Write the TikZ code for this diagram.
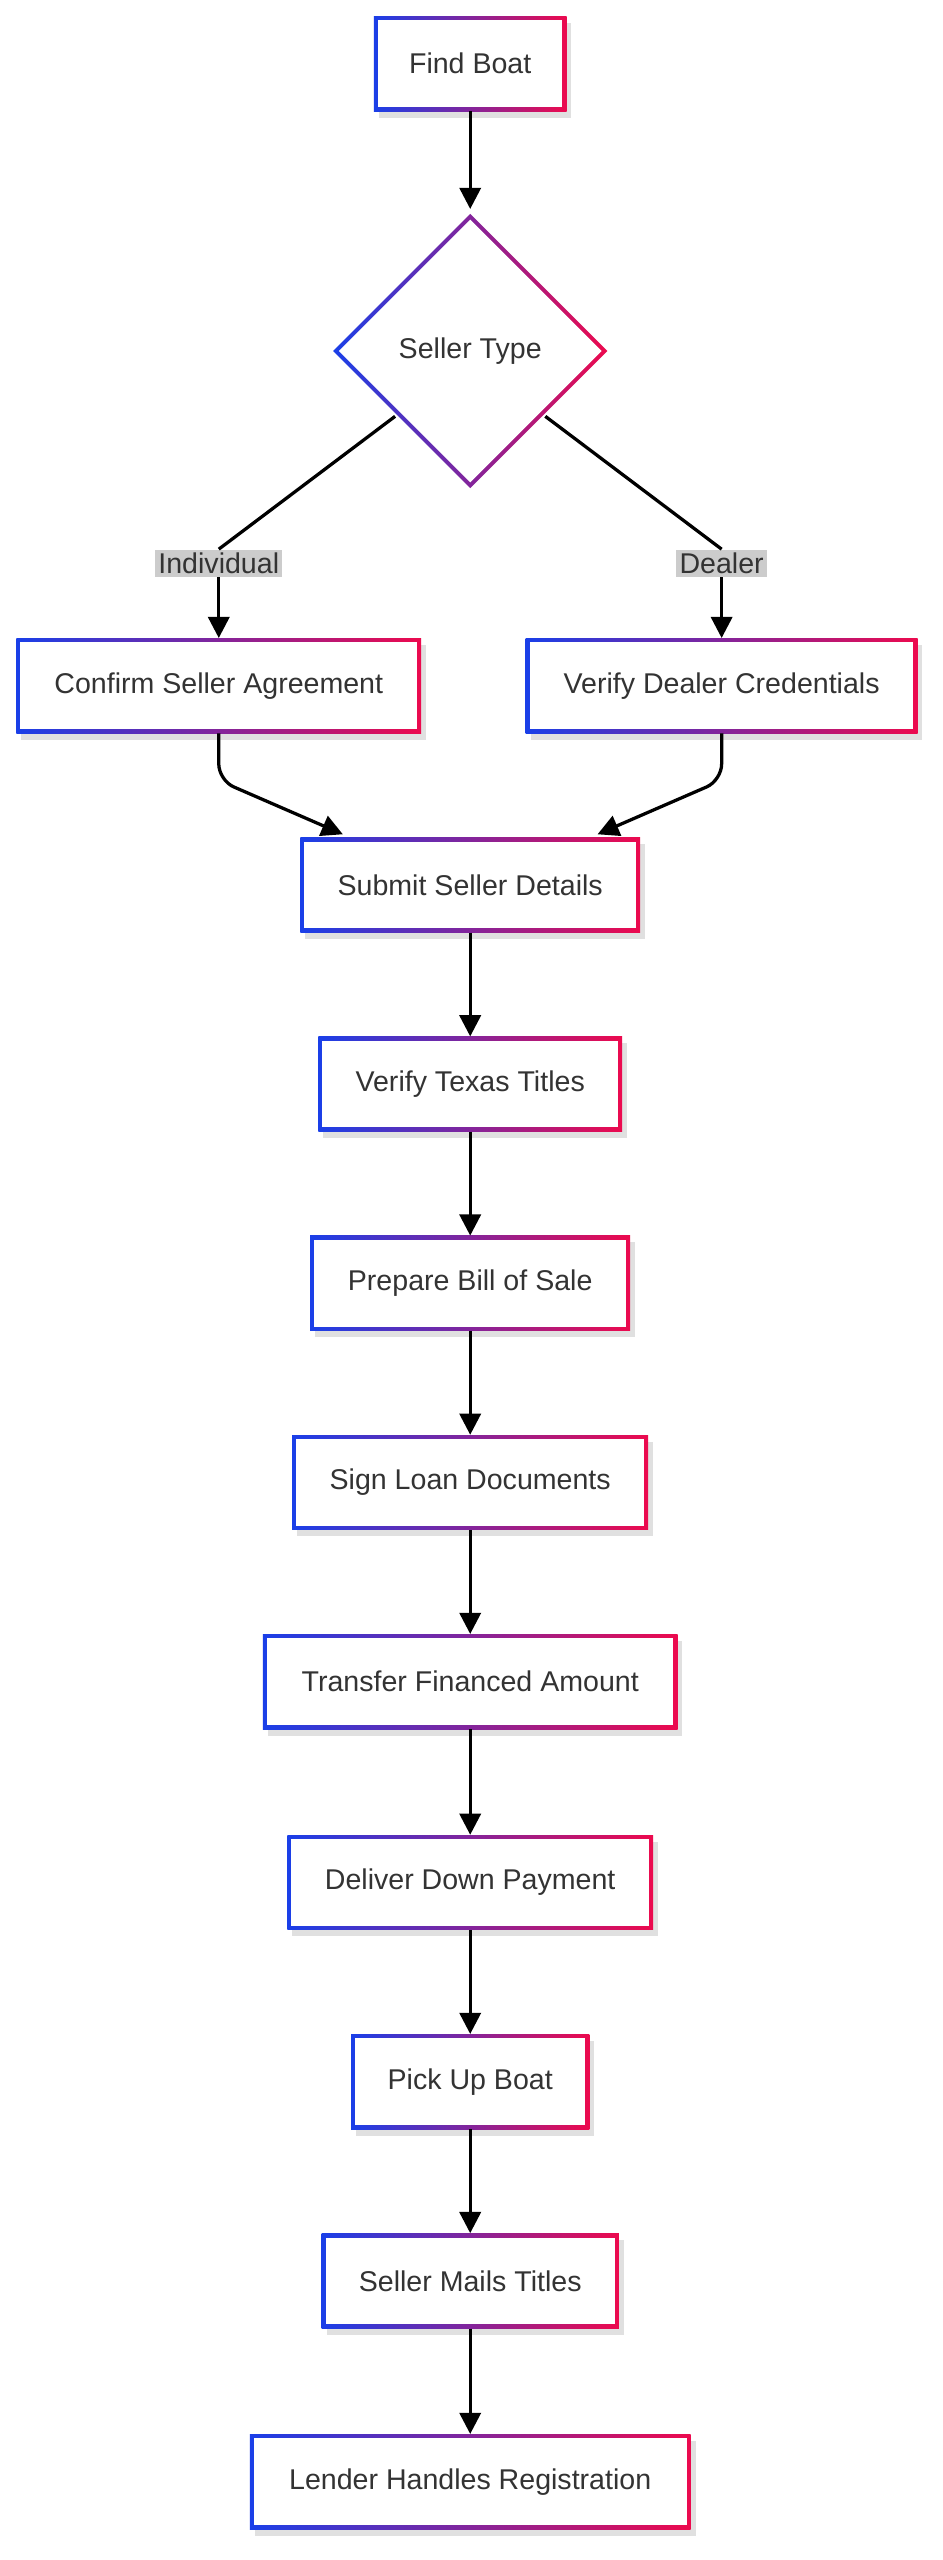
\documentclass[tikz,border=0pt]{standalone}
\usepackage{fontspec}
\setmainfont{Liberation Sans}
\usetikzlibrary{arrows.meta,shapes.geometric}
\definecolor{gblue}{HTML}{1A3FE8}
\definecolor{gred}{HTML}{EC0A4E}
\definecolor{txt}{HTML}{333333}
\tikzset{
  lbl/.style={font=\fontsize{17.5}{20}\selectfont, text=txt, inner sep=0pt},
  edgelbl/.style={font=\fontsize{17.5}{20}\selectfont, text=txt, fill=black!20, inner sep=2pt},
  conn/.style={line width=2pt, -{Triangle[length=13pt,width=13pt]}, rounded corners=10pt},
  plain/.style={line width=2pt}
}
% \gbox{name}{cx}{cy}{halfwidth}{text}
\newcommand{\gbox}[5]{%
  \fill[black!12] (#2-#4+3,#3-29+4) rectangle (#2+#4+3,#3+29+4);
  \shade[left color=gblue, right color=gred] (#2-#4,#3-29) rectangle (#2+#4,#3+29);
  \fill[white] (#2-#4+2.5,#3-29+2.5) rectangle (#2+#4-2.5,#3+29-2.5);
  \node[lbl, minimum width=2*#4 pt, minimum height=58pt] (#1) at (#2,#3) {#5};
}
\begin{document}
\begin{tikzpicture}[x=1pt,y=-1pt]
\useasboundingbox (0,0) rectangle (577,1568);
\fill[white] (0,0) rectangle (577,1568);
\gbox{find}{288}{39}{59}{Find Boat}
% diamond
\shade[left color=gblue, right color=gred] (204,215) -- (288,131) -- (372,215) -- (288,299) -- cycle;
\fill[white] (207.5,215) -- (288,134.5) -- (368.5,215) -- (288,295.5) -- cycle;
\node[lbl, diamond, minimum width=168pt, minimum height=168pt] (type) at (288,215) {Seller Type};
\gbox{confirm}{134}{420}{124}{Confirm Seller Agreement}
\gbox{dealer}{442}{420}{120}{Verify Dealer Credentials}
\gbox{submit}{288}{542}{104}{Submit Seller Details}
\gbox{texas}{288}{664}{93}{Verify Texas Titles}
\gbox{bill}{288}{786}{98}{Prepare Bill of Sale}
\gbox{sign}{288}{908}{109}{Sign Loan Documents}
\gbox{transfer}{288}{1030}{127}{Transfer Financed Amount}
\gbox{down}{288}{1153}{112}{Deliver Down Payment}
\gbox{pick}{288}{1275}{73}{Pick Up Boat}
\gbox{mails}{288}{1397}{91}{Seller Mails Titles}
\gbox{lender}{288}{1520}{135}{Lender Handles Registration}
\node[edgelbl] (lind) at (134,345) {Individual};
\node[edgelbl] (ldeal) at (442,345) {Dealer};
\draw[conn] (find.south) -- (288,128);
\draw[plain] (242,255) -- (lind.north);
\draw[plain] (334,255) -- (ldeal.north);
\draw[conn] (lind.south) -- (confirm.north);
\draw[conn] (ldeal.south) -- (dealer.north);
\draw[conn] (confirm.south) -- (134,478) -- (210,511);
\draw[conn] (dealer.south) -- (442,478) -- (366,511);
\draw[conn] (submit.south) -- (texas.north);
\draw[conn] (texas.south) -- (bill.north);
\draw[conn] (bill.south) -- (sign.north);
\draw[conn] (sign.south) -- (transfer.north);
\draw[conn] (transfer.south) -- (down.north);
\draw[conn] (down.south) -- (pick.north);
\draw[conn] (pick.south) -- (mails.north);
\draw[conn] (mails.south) -- (lender.north);
\end{tikzpicture}
\end{document}
